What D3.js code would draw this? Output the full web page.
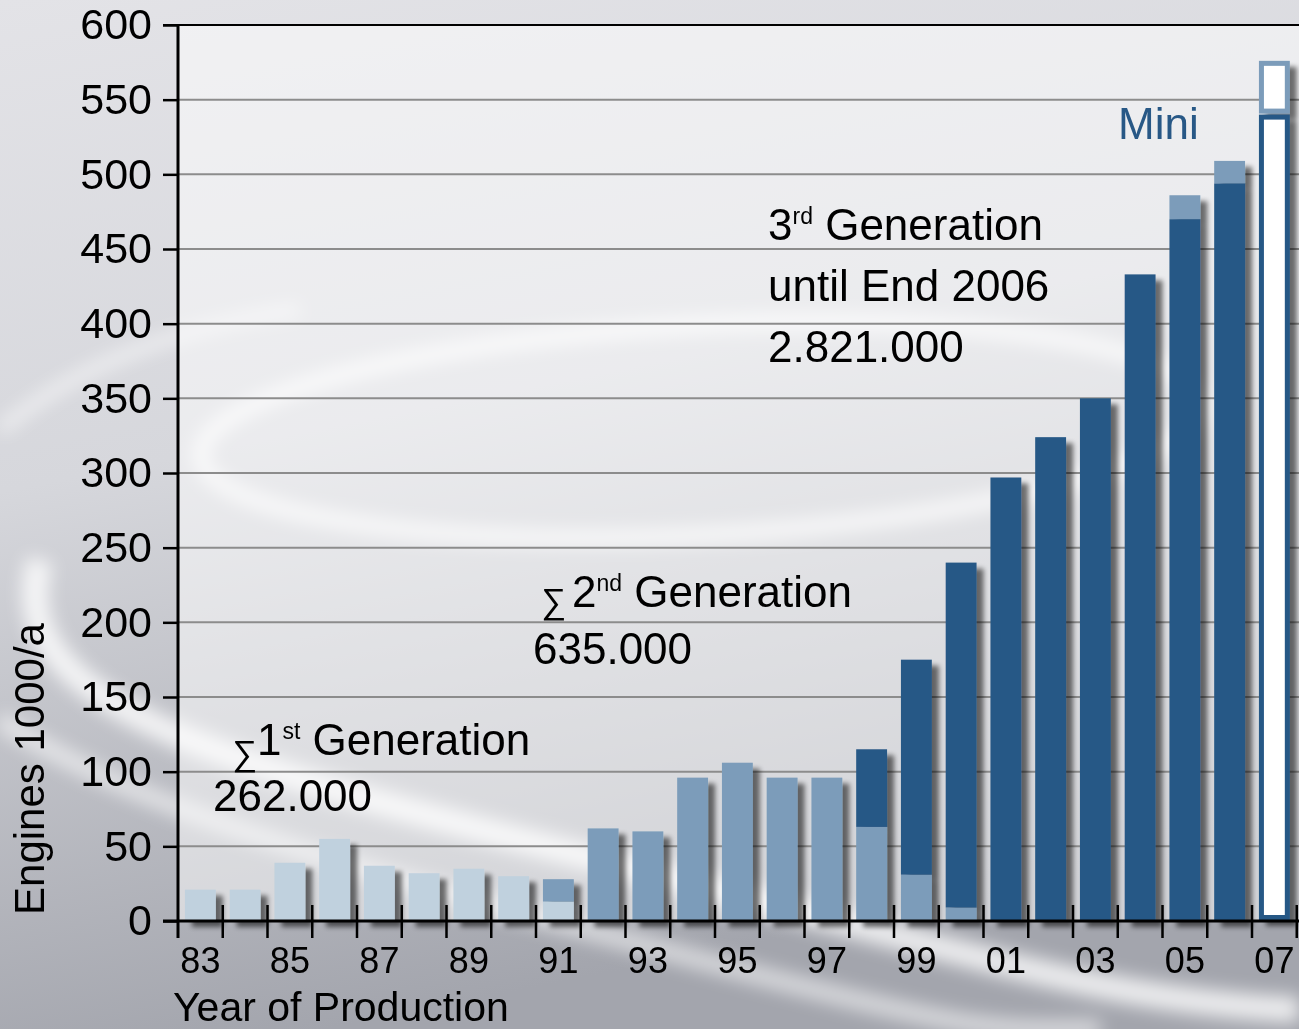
<!DOCTYPE html>
<html>
<head>
<meta charset="utf-8">
<script src="https://cdn.jsdelivr.net/npm/d3@7"></script>
<style>
  body { margin: 0; overflow: hidden; }
  svg { display: block; }
  text { font-family: "Liberation Sans", Arial, sans-serif; fill: #000; }
</style>
</head>
<body>
<svg id="chart" width="1299" height="1029"></svg>
<script>
// values (1000 engines per year)
const years = ["83","84","85","86","87","88","89","90","91","92","93","94","95","96","97","98","99","00","01","02","03","04","05","06","07"];
const gen1 = [21, 21, 39, 55, 37, 32, 35, 30, 13, 0, 0, 0, 0, 0, 0, 0, 0, 0, 0, 0, 0, 0, 0, 0, 0];
const gen2 = [0, 0, 0, 0, 0, 0, 0, 0, 15, 62, 60, 96, 106, 96, 96, 63, 31, 9, 0, 0, 0, 0, 0, 0, 0];
const gen3 = [0, 0, 0, 0, 0, 0, 0, 0, 0, 0, 0, 0, 0, 0, 0, 52, 144, 231, 297, 324, 350, 433, 470, 494, 540];
const mini = [0, 0, 0, 0, 0, 0, 0, 0, 0, 0, 0, 0, 0, 0, 0, 0, 0, 0, 0, 0, 0, 0, 16, 15, 36];
const forecastYears = ["07"];
const yTicks = [0, 50, 100, 150, 200, 250, 300, 350, 400, 450, 500, 550, 600];

const keys = ["gen1", "gen2", "gen3", "mini"];
const colors = { gen1: "#c0d1de", gen2: "#7b9cba", gen3: "#285886", mini: "#7b9cba" };

const svg = d3.select("#chart");
const W = 1299, H = 1029;

// scales
const x = d3.scaleBand().domain(years).range([178, 178 + 44.75 * years.length]).paddingInner(0.31).paddingOuter(0.155);
const y = d3.scaleLinear().domain([0, 600]).range([921, 25]);

const rows = years.map((yr, i) => ({ year: yr, gen1: gen1[i], gen2: gen2[i], gen3: gen3[i], mini: mini[i] }));
const stacked = d3.stack().keys(keys)(rows);

// ---------- defs: background + shadow ----------
const defs = svg.append("defs");
const bg = defs.append("linearGradient").attr("id", "bg").attr("x1", 0).attr("y1", 0).attr("x2", 0.25).attr("y2", 1);
bg.append("stop").attr("offset", 0).attr("stop-color", "#e3e3e7");
bg.append("stop").attr("offset", 0.45).attr("stop-color", "#d6d7dc");
bg.append("stop").attr("offset", 1).attr("stop-color", "#a3a5ad");

const blur = defs.append("filter").attr("id", "blur").attr("x", "-20%").attr("y", "-20%").attr("width", "140%").attr("height", "140%");
blur.append("feGaussianBlur").attr("stdDeviation", 9);

const shadow = defs.append("filter").attr("id", "shadow").attr("x", "-10%").attr("y", "-10%").attr("width", "130%").attr("height", "130%");
shadow.append("feGaussianBlur").attr("in", "SourceAlpha").attr("stdDeviation", 2.5).attr("result", "b");
shadow.append("feOffset").attr("in", "b").attr("dx", 7).attr("dy", 6).attr("result", "o");
shadow.append("feComponentTransfer").attr("in", "o").attr("result", "s")
  .append("feFuncA").attr("type", "linear").attr("slope", 0.55);
const merge = shadow.append("feMerge");
merge.append("feMergeNode").attr("in", "s");
merge.append("feMergeNode").attr("in", "SourceGraphic");

// background
svg.append("rect").attr("width", W).attr("height", H).attr("fill", "url(#bg)");
const swirl = svg.append("g").attr("filter", "url(#blur)").attr("fill", "none").attr("stroke", "#fff");
swirl.append("ellipse").attr("cx", 700).attr("cy", 430).attr("rx", 500).attr("ry", 105)
  .attr("transform", "rotate(-3 700 430)").attr("stroke-width", 16).attr("opacity", 0.75);
swirl.append("path").attr("d", "M 40 560 C 0 700, 200 760, 600 860 S 1100 1000, 1299 1010")
  .attr("stroke-width", 26).attr("opacity", 0.8);
swirl.append("path").attr("d", "M 0 720 C 150 820, 400 880, 700 960 S 1000 1029, 1100 1029")
  .attr("stroke-width", 18).attr("opacity", 0.6);
swirl.append("path").attr("d", "M 0 430 C 60 380, 150 330, 300 310")
  .attr("stroke-width", 12).attr("opacity", 0.6);

// light plot panel
svg.append("rect").attr("x", 178).attr("y", y(600)).attr("width", W - 178).attr("height", y(0) - y(600))
  .attr("fill", "#fff").attr("opacity", 0.5);

// grid lines
svg.append("g").selectAll("line").data(yTicks.filter(v => v > 0 && v < 600)).join("line")
  .attr("x1", 178).attr("x2", W).attr("y1", d => y(d)).attr("y2", d => y(d))
  .attr("stroke", "#8c8c8c").attr("stroke-width", 2);
svg.append("line").attr("x1", 163).attr("x2", W).attr("y1", y(600)).attr("y2", y(600))
  .attr("stroke", "#000").attr("stroke-width", 2);

// ---------- bars ----------
const bars = svg.append("g").attr("filter", "url(#shadow)");
stacked.forEach(layer => {
  const key = layer.key;
  layer.forEach(d => {
    const h = y(d[0]) - y(d[1]);
    if (h <= 0) return;
    const yr = d.data.year;
    if (forecastYears.includes(yr)) {
      const sw = 5;
      bars.append("rect")
        .attr("x", x(yr) + sw / 2).attr("y", y(d[1]) + sw / 2)
        .attr("width", x.bandwidth() - sw).attr("height", h - sw - 1)
        .attr("fill", "#fff").attr("stroke", colors[key]).attr("stroke-width", sw);
    } else {
      bars.append("rect")
        .attr("x", x(yr)).attr("y", y(d[1]))
        .attr("width", x.bandwidth()).attr("height", h)
        .attr("fill", colors[key]);
    }
  });
});

// ---------- axes ----------
const yAxis = svg.append("g").attr("transform", "translate(178,0)")
  .call(d3.axisLeft(y).tickValues(yTicks).tickSize(15).tickPadding(11));
yAxis.select(".domain").remove();
yAxis.selectAll(".tick line").attr("stroke", "#000").attr("stroke-width", 2.5);
yAxis.selectAll(".tick text").attr("font-size", 43).attr("font-family", "Liberation Sans, Arial, sans-serif").attr("fill", "#000");

const xAxis = svg.append("g").attr("transform", `translate(0,${y(0)})`)
  .call(d3.axisBottom(x).tickSize(0).tickPadding(26).tickFormat((d, i) => i % 2 === 0 ? d : ""));
xAxis.select(".domain").remove();
xAxis.selectAll(".tick text").attr("font-size", 36).attr("font-family", "Liberation Sans, Arial, sans-serif").attr("fill", "#000");

// tick marks between the years
const step = x.step();
const bounds = years.map(yr => x(yr) - step * x.paddingInner() / 2 + step);
svg.append("g").selectAll("line").data(bounds).join("line")
  .attr("x1", d => d).attr("x2", d => d).attr("y1", y(0) - 16).attr("y2", y(0) + 17)
  .attr("stroke", "#000").attr("stroke-width", 2.5);

// axis lines
svg.append("line").attr("x1", 163).attr("x2", W).attr("y1", y(0)).attr("y2", y(0))
  .attr("stroke", "#000").attr("stroke-width", 3);
svg.append("line").attr("x1", 178).attr("x2", 178).attr("y1", y(600)).attr("y2", y(0) + 17)
  .attr("stroke", "#000").attr("stroke-width", 3);

// axis titles
svg.append("text").attr("x", 173).attr("y", 1021).attr("font-size", 41).text("Year of Production");
svg.append("text").attr("transform", "translate(44,769) rotate(-90)").attr("text-anchor", "middle")
  .attr("font-size", 42).text("Engines 1000/a");

// ---------- annotations ----------
function label(x0, y0, parts) {
  const t = svg.append("text").attr("x", x0).attr("y", y0).attr("font-size", 44);
  parts.forEach(p => {
    const s = t.append("tspan").text(p.t);
    if (p.size) s.attr("font-size", p.size);
    if (p.dy) s.attr("dy", p.dy);
    if (p.dx) s.attr("dx", p.dx);
  });
  return t;
}
label(232, 755, [{ t: "\u2211", size: 35, dy: 10 }, { t: "1", dy: -10 }, { t: "st", size: 23, dy: -16, dx: 1 }, { t: " Generation", dy: 16 }]);
svg.append("text").attr("x", 213).attr("y", 811).attr("font-size", 44).text("262.000");

label(541, 607, [{ t: "\u2211", size: 35, dy: 6 }, { t: "2", dy: -6, dx: 6 }, { t: "nd", size: 23, dy: -16 }, { t: " Generation", dy: 16 }]);
svg.append("text").attr("x", 533).attr("y", 664).attr("font-size", 44).text("635.000");

label(768, 240, [{ t: "3" }, { t: "rd", size: 23, dy: -16 }, { t: " Generation", dy: 16 }]);
svg.append("text").attr("x", 768).attr("y", 301).attr("font-size", 44).text("until End 2006");
svg.append("text").attr("x", 768).attr("y", 362).attr("font-size", 44).text("2.821.000");

svg.append("text").attr("x", 1118).attr("y", 139).attr("font-size", 44).style("fill", "#285886").text("Mini");
</script>
</body>
</html>
